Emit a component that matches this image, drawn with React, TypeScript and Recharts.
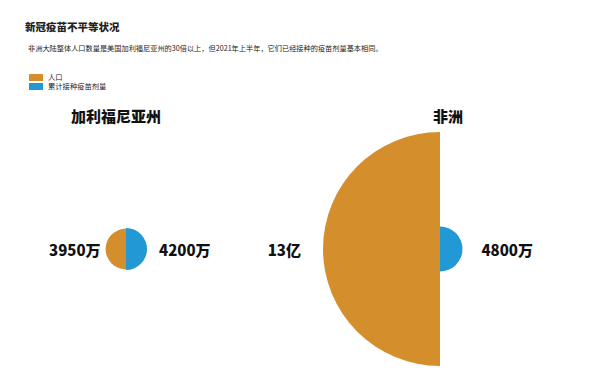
import React from 'react';
import { PieChart, Pie, Cell } from 'recharts';

// values in 万
const regions = ['加利福尼亚州', '非洲'];
const population = [3950, 130000];
const doses = [4200, 4800];
const populationLabels = ['3950万', '13亿'];
const doseLabels = ['4200万', '4800万'];

const ORANGE = '#D48F2C';
const BLUE = '#2298D4';
const FONT = '"Noto Sans CJK SC", "Noto Sans", sans-serif';

// layout per region: center x, title center x, left/right label gaps
const layout = [
  { cx: 126, titleX: 116, gapL: 5, gapR: 12 },
  { cx: 440, titleX: 448, gapL: 22, gapR: 19 },
];
const CY = 249;
const R_MAX = 117;
const maxVal = Math.max(...population, ...doses);
const rScale = (v: number) => R_MAX * Math.sqrt(v / maxVal);

const sideLabel = (text: string, side: 'left' | 'right', gap: number) => (props: any) => {
  const { cx, cy, outerRadius } = props;
  const x = side === 'left' ? cx - outerRadius - gap : cx + outerRadius + gap;
  return (
    <text
      x={x}
      y={cy}
      textAnchor={side === 'left' ? 'end' : 'start'}
      dominantBaseline="central"
      fontFamily={FONT}
      fontWeight={900}
      fontSize={15}
      fill="#111"
    >
      {text}
    </text>
  );
};

const App: React.FC = () => {
  return (
    <div style={{ position: 'absolute', left: 0, top: 0, width: 600, height: 387, background: '#fff', fontFamily: FONT }}>
      <div style={{ position: 'absolute', left: 25, top: 19, fontSize: 10.5, fontWeight: 900, color: '#222' }}>
        新冠疫苗不平等状况
      </div>
      <div style={{ position: 'absolute', left: 28, top: 43, fontSize: 7.2, color: '#222', whiteSpace: 'nowrap' }}>
        非洲大陆整体人口数量是美国加利福尼亚州的30倍以上，但2021年上半年，它们已经接种的疫苗剂量基本相同。
      </div>
      <div style={{ position: 'absolute', left: 29, top: 73, fontSize: 7.3, color: '#222', lineHeight: '9px' }}>
        <div style={{ display: 'flex', alignItems: 'center', height: 9 }}>
          <span style={{ display: 'inline-block', width: 14, height: 7, background: ORANGE, marginRight: 5 }} />
          人口
        </div>
        <div style={{ display: 'flex', alignItems: 'center', height: 9 }}>
          <span style={{ display: 'inline-block', width: 14, height: 7, background: BLUE, marginRight: 5 }} />
          累计接种疫苗剂量
        </div>
      </div>
      {regions.map((name, i) => (
        <div
          key={name}
          style={{
            position: 'absolute',
            left: layout[i].titleX - 60,
            width: 120,
            top: 105,
            textAlign: 'center',
            fontSize: 15,
            fontWeight: 900,
            color: '#111',
          }}
        >
          {name}
        </div>
      ))}
      <div style={{ position: 'absolute', left: 0, top: 0 }}>
        <PieChart width={600} height={387} margin={{ top: 0, right: 0, bottom: 0, left: 0 }}>
          {regions.map((name, i) => (
            <Pie
              key={`pop-${name}`}
              data={[{ name: '人口', value: population[i] }]}
              dataKey="value"
              cx={layout[i].cx}
              cy={CY}
              innerRadius={0}
              outerRadius={rScale(population[i])}
              startAngle={90}
              endAngle={270}
              stroke="none"
              labelLine={false}
              label={sideLabel(populationLabels[i], 'left', layout[i].gapL)}
              isAnimationActive={false}
            >
              <Cell fill={ORANGE} />
            </Pie>
          ))}
          {regions.map((name, i) => (
            <Pie
              key={`dose-${name}`}
              data={[{ name: '累计接种疫苗剂量', value: doses[i] }]}
              dataKey="value"
              cx={layout[i].cx}
              cy={CY}
              innerRadius={0}
              outerRadius={rScale(doses[i])}
              startAngle={90}
              endAngle={-90}
              stroke="none"
              labelLine={false}
              label={sideLabel(doseLabels[i], 'right', layout[i].gapR)}
              isAnimationActive={false}
            >
              <Cell fill={BLUE} />
            </Pie>
          ))}
        </PieChart>
      </div>
    </div>
  );
};

export default App;
